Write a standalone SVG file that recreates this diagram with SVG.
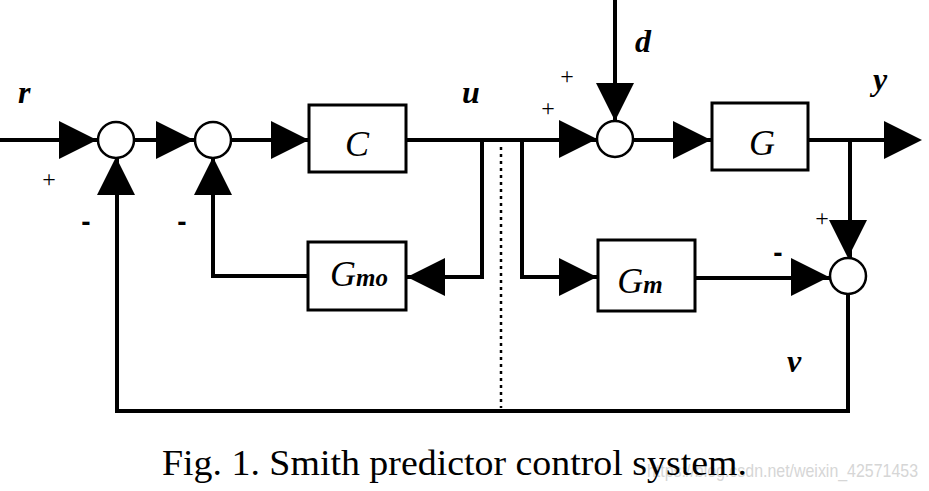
<svg xmlns="http://www.w3.org/2000/svg" xmlns:xlink="http://www.w3.org/1999/xlink" width="929" height="491" viewBox="0 0 929 491">
<style>
.ln{fill:none;stroke:#000;stroke-width:4;stroke-linejoin:miter;stroke-linecap:butt}
.dot{fill:none;stroke:#000;stroke-width:2.5;stroke-dasharray:3 4}
.box{fill:#fff;stroke:#000;stroke-width:3}
.sum{fill:#fff;stroke:#000;stroke-width:2.5}
.ah{fill:#000}
.bl{font-family:"Liberation Serif",serif;font-style:italic;font-size:36px;fill:#000}
.sig{font-family:"Liberation Serif",serif;font-style:italic;font-weight:bold;font-size:32px;fill:#000}
.pm{font-family:"Liberation Serif",serif;font-size:24px;fill:#000}
.mn{font-family:"Liberation Sans",sans-serif;font-weight:bold;font-size:28px;fill:#000}
.cap{font-family:"Liberation Serif",serif;font-size:35px;fill:#000}
.wm{font-family:"Liberation Sans",sans-serif;font-size:19px;fill:#d6d6d6}
</style>
<defs>
<path id="ah" d="M0,0 L-38,-19 L-38,19 Z"/>
</defs>
<rect width="929" height="491" fill="#fff"/>
<g id="connectors">
<path class="ln" d="M0,140 H98"/>
<path class="ln" d="M134,140 H195"/>
<path class="ln" d="M231,140 H309"/>
<path class="ln" d="M406,140 H597"/>
<path class="ln" d="M633,140 H711"/>
<path class="ln" d="M808,140 H900"/>
<path class="ln" d="M850,140 V258"/>
<path class="ln" d="M482,140 V277 H407"/>
<path class="ln" d="M522,140 V277 H597"/>
<path class="ln" d="M695,278 H830"/>
<path class="ln" d="M848,294 V411 H117 V158"/>
<path class="ln" d="M309,276 H213 V158"/>
<path class="ln" d="M615,0 V121"/>
<path class="dot" d="M501,147 V408"/>
<use href="#ah" class="ah" transform="translate(97,140)"/>
<use href="#ah" class="ah" transform="translate(194,140)"/>
<use href="#ah" class="ah" transform="translate(309,140)"/>
<use href="#ah" class="ah" transform="translate(116,157) rotate(-90)"/>
<use href="#ah" class="ah" transform="translate(213,157) rotate(-90)"/>
<use href="#ah" class="ah" transform="translate(407,277) rotate(180)"/>
<use href="#ah" class="ah" transform="translate(597,139)"/>
<use href="#ah" class="ah" transform="translate(615,121) rotate(90)"/>
<use href="#ah" class="ah" transform="translate(711,140)"/>
<use href="#ah" class="ah" transform="translate(922,140)"/>
<use href="#ah" class="ah" transform="translate(848,258) rotate(90)"/>
<use href="#ah" class="ah" transform="translate(597,277)"/>
<use href="#ah" class="ah" transform="translate(829,277)"/>
</g>
<g id="sum1"><circle class="sum" cx="116" cy="140" r="18"/></g>
<g id="sum2"><circle class="sum" cx="213" cy="140" r="18"/></g>
<g id="sum3"><circle class="sum" cx="615" cy="139" r="18"/></g>
<g id="sum4"><circle class="sum" cx="848" cy="276" r="18"/></g>
<g id="C"><rect class="box" x="309" y="105" width="97" height="67"/><text class="bl" x="357" y="156" text-anchor="middle">C</text></g>
<g id="Gmo"><rect class="box" x="308" y="242" width="98" height="68"/><text class="bl" x="359" y="286" text-anchor="middle">G<tspan font-size="25" font-weight="bold">mo</tspan></text></g>
<g id="G"><rect class="box" x="712" y="103" width="96" height="67"/><text class="bl" x="762" y="155" text-anchor="middle" font-size="32">G</text></g>
<g id="Gm"><rect class="box" x="598" y="240" width="97" height="71"/><text class="bl" x="640" y="293" text-anchor="middle" font-size="33">G<tspan font-size="25" font-weight="bold">m</tspan></text></g>
<g id="labels">
<text class="sig" x="18" y="103">r</text>
<text class="sig" x="462" y="103">u</text>
<text class="sig" x="635" y="52">d</text>
<text class="sig" x="873" y="90">y</text>
<text class="sig" x="787" y="372">v</text>
<text class="pm" x="49" y="187" text-anchor="middle">+</text>
<text class="pm" x="567" y="84" text-anchor="middle">+</text>
<text class="pm" x="548" y="116" text-anchor="middle">+</text>
<text class="pm" x="822" y="226" text-anchor="middle">+</text>
<text class="mn" x="86" y="231" text-anchor="middle">-</text>
<text class="mn" x="182" y="231" text-anchor="middle">-</text>
<text class="mn" x="778" y="262" text-anchor="middle">-</text>
</g>
<text class="wm" x="647" y="477" textLength="271" lengthAdjust="spacingAndGlyphs">https://blog.csdn.net/weixin_42571453</text>
<text class="cap" x="162" y="475" textLength="585" lengthAdjust="spacingAndGlyphs">Fig. 1.  Smith predictor control system.</text>
</svg>
